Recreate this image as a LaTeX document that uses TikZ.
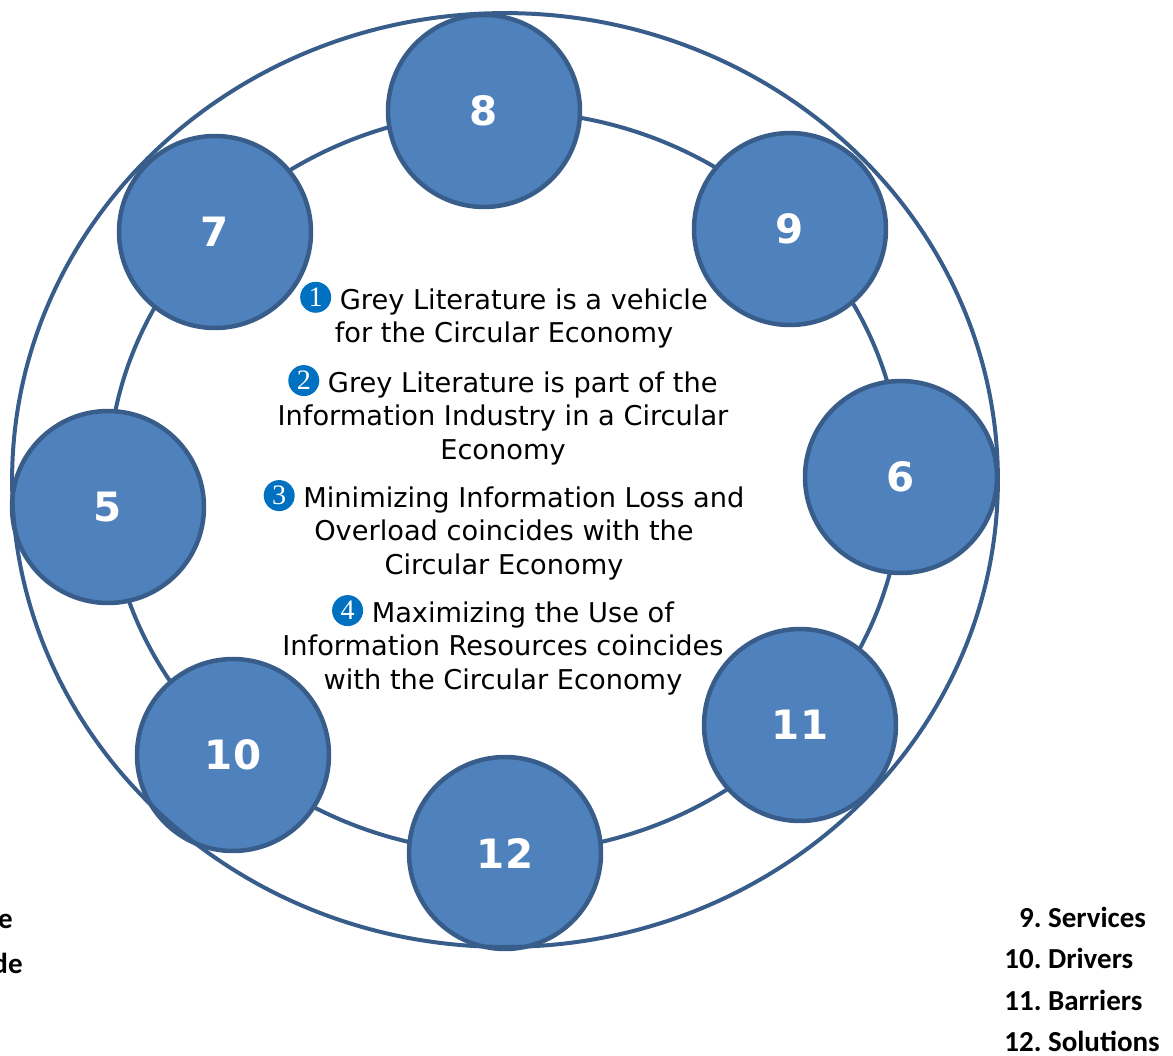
\documentclass[tikz,border=0pt]{standalone}
\usepackage{fontspec}
\setmainfont{DejaVu Sans}
\newfontfamily\listfont{Carlito}
\newfontfamily\digitfont{Liberation Serif}
\usetikzlibrary{positioning}
\frenchspacing
\definecolor{bubblefill}{HTML}{4F81BD}
\definecolor{bubbleline}{HTML}{385D8A}
\definecolor{dotblue}{HTML}{0070C0}
\tikzset{
  ring/.style={draw=bubbleline,line width=0.08cm},
  bubble/.style={circle,fill=bubblefill,draw=bubbleline,line width=0.09cm,
    minimum size=3.84cm,inner sep=0pt,text=white,
    font=\bfseries\fontsize{23}{27}\selectfont},
  claim/.style={draw=none,align=center,inner sep=0pt,
    font=\fontsize{15.5}{19}\selectfont},
  legend/.style={draw=none,align=left,inner sep=0pt,
    font=\listfont\bfseries\fontsize{16.5}{23.5}\selectfont}
}
\newcommand{\numdot}[1]{\tikz[baseline=-0.8ex]\node[circle,fill=dotblue,
  inner sep=0pt,minimum size=0.62cm,text=white,
  font=\digitfont\fontsize{16}{16}\selectfont]{#1};}
\begin{document}
\begin{tikzpicture}[x=0.02cm,y=-0.02cm]
\useasboundingbox (0,0) rectangle (1173,1055);
% path through the bubbles
\draw[ring] (505,482) ellipse [x radius=7.94cm,y radius=7.42cm];
\node[bubble] (b8) at (484,111) {8};
\node[bubble] (b9) at (790,229) {9};
\node[bubble] (b6) at (901,477) {6};
\node[bubble] (b11) at (800,725) {11};
\node[bubble] (b12) at (505,853) {12};
\node[bubble] (b10) at (233,755) {10};
\node[bubble] (b5) at (108,507) {5};
\node[bubble] (b7) at (215,232) {7};
% outer ring
\draw[ring] (505,480) ellipse [x radius=9.86cm,y radius=9.34cm];
\node[claim] (g1) at (504,315) {\numdot{1} Grey Literature is a vehicle\\for the Circular Economy};
\node[claim] (g2) at (503,415) {\numdot{2} Grey Literature is part of the\\Information Industry in a Circular\\Economy};
\node[claim] (g3) at (504,530) {\numdot{3} Minimizing Information Loss and\\Overload coincides with the\\Circular Economy};
\node[claim] (g4) at (503,645) {\numdot{4} Maximizing the Use of\\Information Resources coincides\\with the Circular Economy};
\node[legend,anchor=north west] (list) at (1004,907) {\phantom{1}9. Services\\10. Drivers\\11. Barriers\\12. Solutions};
\node[legend,anchor=east] (cut1) at (13,921) {e};
\node[legend,anchor=east] (cut2) at (23,963) {de};
\end{tikzpicture}
\end{document}
